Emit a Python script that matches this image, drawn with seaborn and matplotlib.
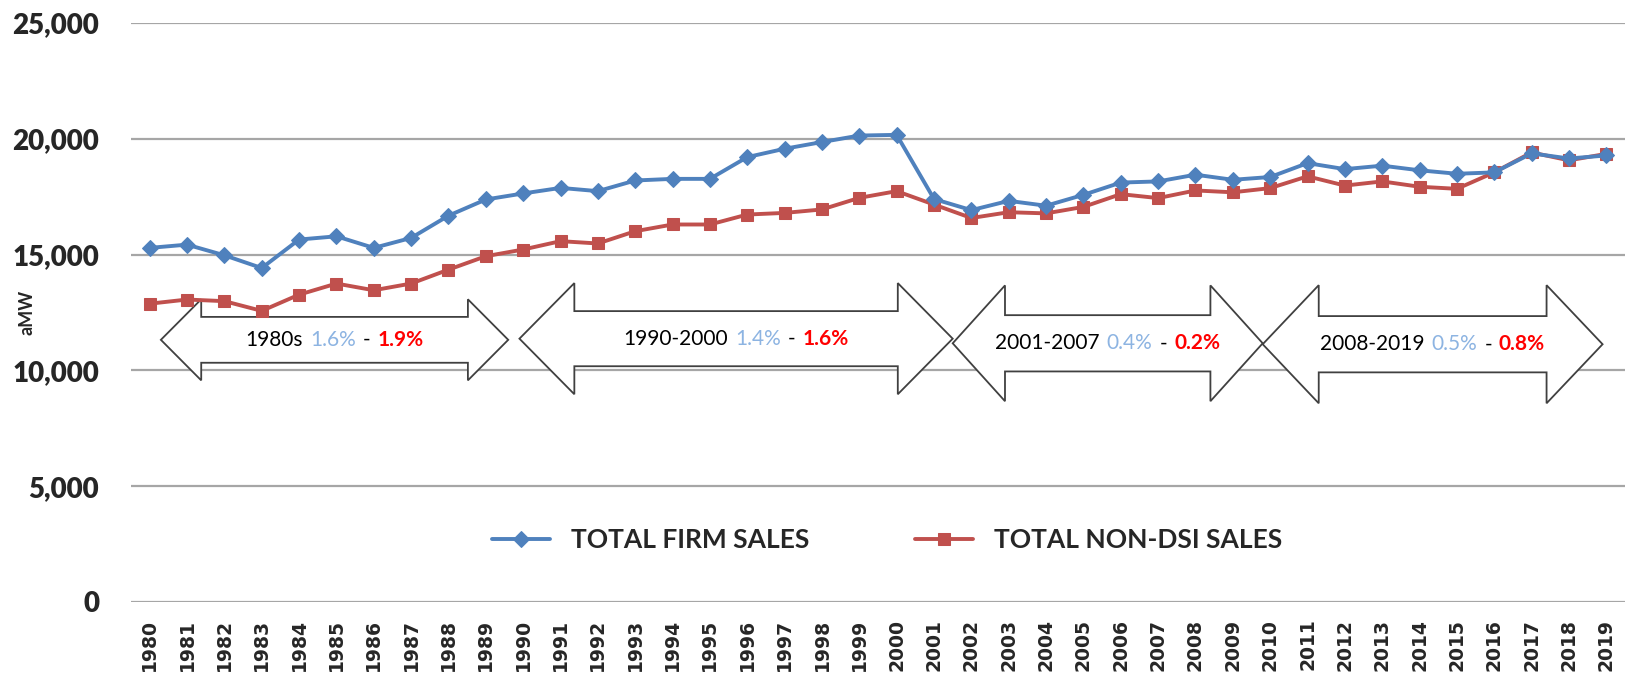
import matplotlib
matplotlib.use("Agg")
import matplotlib.pyplot as plt
from matplotlib.patches import Polygon
from matplotlib.offsetbox import TextArea, HPacker, AnnotationBbox
import seaborn as sns

# data (aMW)
years = list(range(1980, 2020))
firm_sales = [15290, 15430, 14970, 14420, 15650, 15790, 15290, 15720, 16680, 17380,
              17640, 17880, 17740, 18200, 18270, 18270, 19210, 19570, 19860, 20140,
              20170, 17400, 16920, 17320, 17110, 17580, 18110, 18160, 18450, 18230,
              18350, 18950, 18690, 18840, 18640, 18490, 18550, 19370, 19150, 19280]
non_dsi_sales = [12880, 13060, 12990, 12570, 13270, 13750, 13460, 13750, 14350, 14930,
                 15220, 15580, 15480, 16010, 16300, 16300, 16730, 16800, 16950, 17450,
                 17740, 17160, 16580, 16830, 16780, 17060, 17610, 17440, 17770, 17690,
                 17870, 18380, 17980, 18160, 17930, 17840, 18550, 19410, 19070, 19350]

y_ticks = [0, 5000, 10000, 15000, 20000, 25000]

period_labels = ["1980s", "1990-2000", "2001-2007", "2008-2019"]
firm_growth = ["1.6%", "1.4%", "0.4%", "0.5%"]
non_dsi_growth = ["1.9%", "1.6%", "0.2%", "0.8%"]

# arrow layout: x0, x1, centre y, head half height, shaft half height, head length
arrow_geom = [
    (1980.3, 1989.6, 11320, 1750, 990, 1.08),
    (1989.9, 2001.5, 11370, 2400, 1190, 1.47),
    (2001.5, 2009.8, 11170, 2500, 1215, 1.40),
    (2009.8, 2018.9, 11130, 2550, 1215, 1.50),
]

BLUE = "#4F81BD"
RED = "#C0504D"

sns.set_theme(style="white")
plt.rcParams["font.family"] = ["Lato", "DejaVu Sans"]

fig = plt.figure(figsize=(16.28, 6.75), dpi=100)
ax = fig.add_axes([131 / 1628, 1 - 602 / 675, (1625 - 131) / 1628, 579 / 675])

sns.lineplot(x=years, y=firm_sales, ax=ax, color=BLUE, lw=2.8, marker="D",
             markersize=8.5, markeredgecolor=BLUE, label="TOTAL FIRM SALES", zorder=4)
sns.lineplot(x=years, y=non_dsi_sales, ax=ax, color=RED, lw=2.8, marker="s",
             markersize=8.5, markeredgecolor=RED, label="TOTAL NON-DSI SALES", zorder=3)

ax.set_xlim(years[0] - 0.5, years[-1] + 0.5)
ax.set_ylim(0, 25000)
ax.set_xticks(years)
ax.set_xticklabels([str(y) for y in years], rotation=90, fontsize=13.5,
                   fontweight="bold", family="DejaVu Sans")
ax.set_yticks(y_ticks)
ax.set_yticklabels([f"{v:,}" for v in y_ticks], fontsize=20, fontweight="heavy")
ax.tick_params(axis="x", length=0, pad=12)
ax.tick_params(axis="y", length=0, pad=23)
ax.set_axisbelow(True)
ax.yaxis.grid(True, color="#A6A6A6", lw=1.6)
ax.xaxis.grid(False)
for s in ax.spines.values():
    s.set_visible(False)
ax.set_xlabel("")
ax.set_ylabel("")

# period arrows with growth rates
for (x0, x1, yc, hh, sh, hl), lab, fg, ng in zip(arrow_geom, period_labels,
                                                  firm_growth, non_dsi_growth):
    pts = [(x0, yc), (x0 + hl, yc + hh), (x0 + hl, yc + sh), (x1 - hl, yc + sh),
           (x1 - hl, yc + hh), (x1, yc), (x1 - hl, yc - hh), (x1 - hl, yc - sh),
           (x0 + hl, yc - sh), (x0 + hl, yc - hh)]
    ax.add_patch(Polygon(pts, closed=True, facecolor="white", edgecolor="#404040",
                         lw=1.3, zorder=2))
    fs = 15
    parts = [TextArea(lab, textprops=dict(color="black", fontsize=fs)),
             TextArea(fg, textprops=dict(color="#8DB4E2", fontsize=fs)),
             TextArea("-", textprops=dict(color="black", fontsize=fs)),
             TextArea(ng, textprops=dict(color="#FF0000", fontsize=fs, fontweight="bold"))]
    box = HPacker(children=parts, align="baseline", pad=0, sep=5)
    ax.add_artist(AnnotationBbox(box, ((x0 + x1) / 2, yc), xycoords="data",
                                 frameon=False, box_alignment=(0.5, 0.5), zorder=2.5))

ax.legend(loc="center", bbox_to_anchor=(0.506, 0.107), ncol=2, frameon=False,
          prop=dict(family="Lato", weight="bold", size=19), handlelength=2.2,
          handletextpad=0.8, columnspacing=4.0)

fig.text(27 / 1628, 1 - 312 / 675, "aMW", rotation=90, ha="center", va="center",
         fontsize=13, fontweight="bold")

fig.savefig("out.png", dpi=100)
